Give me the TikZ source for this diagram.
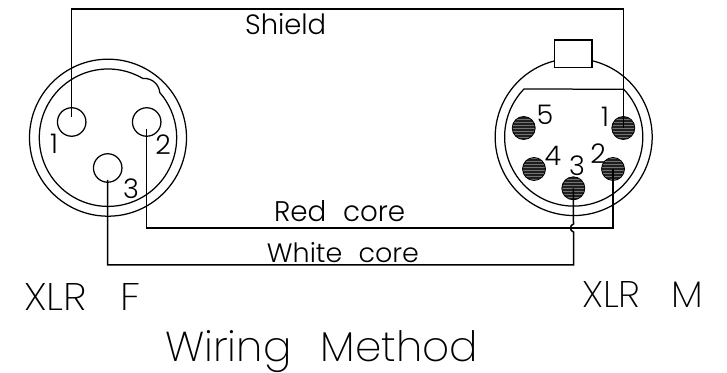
\documentclass[tikz,border=0pt]{standalone}
\usepackage{fontspec}
\usetikzlibrary{patterns}
\newfontfamily\cadfont{Poppins Light}
\newfontfamily\cadthin{Poppins ExtraLight}
\newcommand{\cadtext}[3]{\resizebox{#1pt}{#2pt}{\cadfont #3}}
\newcommand{\cadtitle}[3]{\resizebox{#1pt}{#2pt}{\cadthin #3}}
\tikzset{
  x=1pt,y=1pt,
  wire/.style={draw=black,line width=1.5pt,line join=miter},
  shell/.style={draw=black,line width=1.25pt,fill=none},
  fpin/.style={circle,draw=black,line width=1.25pt,inner sep=0pt,minimum size=28.5pt},
  mpin/.style={circle,draw=black,preaction={fill=black!88},pattern=horizontal lines,pattern color=black!55,line width=0.8pt,inner sep=0pt,minimum size=23pt},
  lab/.style={inner sep=0pt,anchor=base west,text=black},
  digit/.style={inner sep=0pt,anchor=center,text=black,font=\cadfont\fontsize{27}{27}\selectfont}
}
\begin{document}
\begin{tikzpicture}
\useasboundingbox (0,0) rectangle (727,372);
% female connector
\coordinate (fc) at (108,234.3);
\node[circle,draw=black,line width=1.25pt,inner sep=0pt,minimum size=157pt] (fouter) at (fc) {};
\coordinate (fstart) at (142.97,293.43);
\draw[shell] (fstart) arc[start angle=59.4,end angle=401.2,radius=68.7]
  .. controls (159.5,286) and (153,294.5) .. (fstart);
\node[fpin] (fp1) at (71.7,250) {};
\node[fpin] (fp2) at (146.7,250) {};
\node[fpin] (fp3) at (107.7,204) {};
% male connector
\coordinate (mc) at (573.7,235);
\coordinate (mkeyr) at (592,311.3);
\draw[shell] (mkeyr) arc[start angle=76.5,end angle=-256,radius=78.5];
\coordinate (minl) at (524,283);
\coordinate (minr) at (624,283);
\draw[shell] (minl) arc[start angle=136,end angle=403.7,radius=69.1] -- cycle;
\node[draw=black,line width=1.25pt,inner sep=0pt,minimum width=37.3pt,minimum height=27.7pt] (mkey) at (573.35,318.15) {};
\node[mpin] (mp5) at (523.7,244) {};
\node[mpin] (mp1) at (623.3,244) {};
\node[mpin] (mp4) at (534,203) {};
\node[mpin] (mp2) at (613,203) {};
\node[mpin] (mp3) at (573.3,183.7) {};
% wires
\coordinate (fw1) at (71.7,255);
\coordinate (fw2) at (146.7,243);
\coordinate (fw3) at (107.7,192);
\coordinate (shieldtop) at (350,363);
\coordinate (redrun) at (350,144);
\coordinate (whitecorner) at (573.5,107);
\coordinate (hopb) at (573.5,140);
\coordinate (hopt) at (573.5,148);
\draw[wire] (fw1) |- (shieldtop) -| (mp1.center);
\draw[wire] (fw2) |- (redrun) -| (mp2.center);
\draw[wire] (fw3) |- (whitecorner) -- (hopb) .. controls (569.5,141) and (569.5,147) .. (hopt) -- (mp3.center);
% labels
\node[lab] (lshield) at (245,337) {\cadtext{81}{21}{Shield}};
\node[lab] (lred) at (274,150.5) {\cadtext{131}{21}{Red\hspace{0.6em}core}};
\node[lab] (lwhite) at (266.7,109) {\cadtext{152}{20}{White\hspace{0.6em}core}};
\node[lab] (lxf) at (24,61.3) {\cadtitle{116}{27}{XLR\hspace{0.8em}F}};
\node[lab] (lxm) at (582,65) {\cadtitle{121}{26}{XLR\hspace{0.8em}M}};
\node[lab] (ltitle) at (165,11) {\cadtitle{313}{31}{Wiring\hspace{0.7em}Method}};
\node[digit] (f1) at (54,228) {1};
\node[digit] (f2) at (163,227) {2};
\node[digit] (f3) at (131,183) {3};
\node[digit] (m5) at (545,257) {5};
\node[digit] (m1) at (605,255) {1};
\node[digit] (m4) at (553,216) {4};
\node[digit] (m3) at (577,206) {3};
\node[digit] (m2) at (598,218) {2};
\end{tikzpicture}
\end{document}
